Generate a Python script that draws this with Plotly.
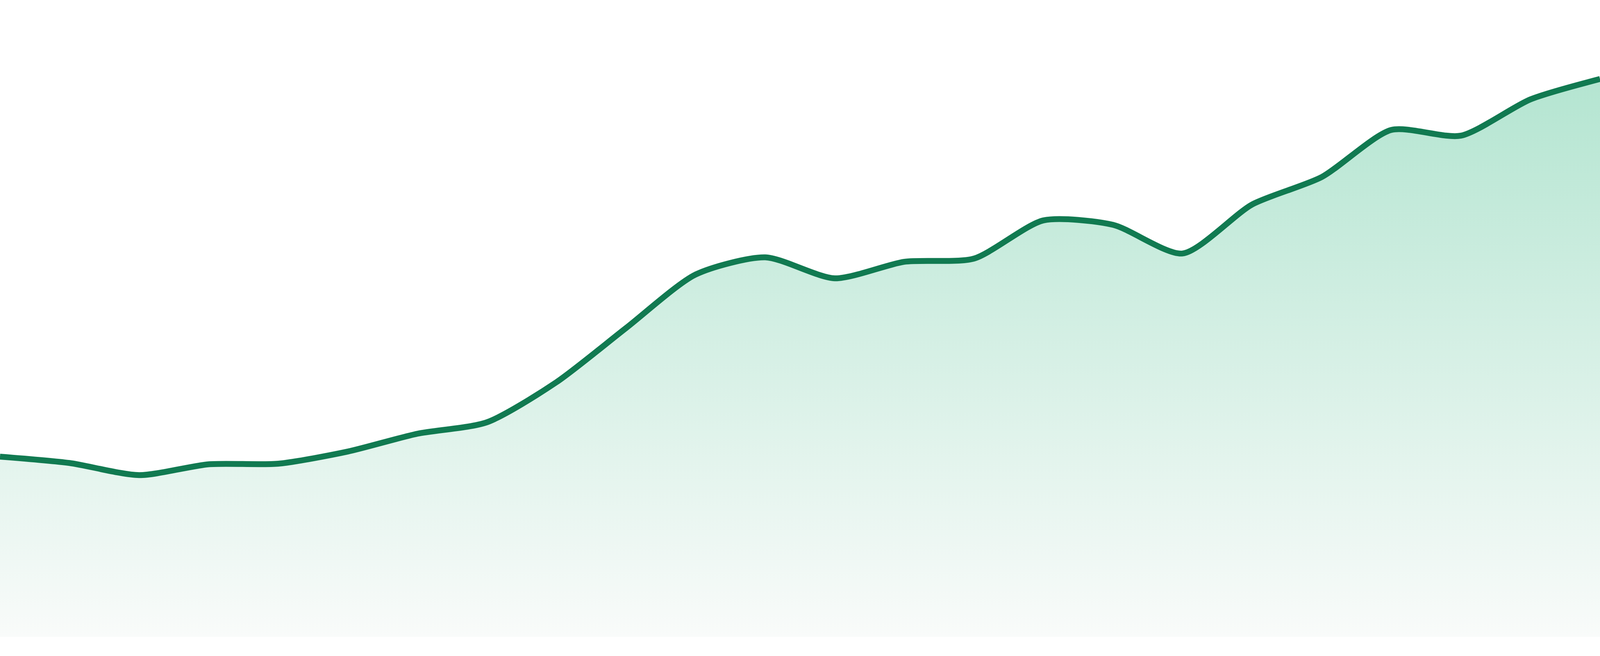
import plotly.graph_objects as go

# values (24 evenly spaced samples, 0-100 scale)
periods = list(range(24))
values = [
    28.3, 27.3, 25.4, 27.1, 27.2, 29.1, 31.9, 33.7, 40.0, 48.5, 56.9, 59.6,
    56.3, 58.9, 59.4, 65.4, 64.7, 60.2, 67.9, 72.2, 79.6, 78.7, 84.4, 87.6,
]

line_color = '#117a51'
fill_bottom = '#f9fbfa'
fill_top = '#b4e5d1'

fig = go.Figure()
fig.add_trace(go.Scatter(
    x=periods,
    y=values,
    mode='lines',
    line=dict(color=line_color, width=15, shape='spline', smoothing=0.7),
    fill='tozeroy',
    fillgradient=dict(
        type='vertical',
        start=0,
        stop=max(values),
        colorscale=[[0, fill_bottom], [1, fill_top]],
    ),
    hoverinfo='skip',
    showlegend=False,
))

# no axes, the area runs edge to edge; the small blank band under zero
# comes from the axis range going a bit below 0
fig.update_layout(
    autosize=True,
    margin=dict(l=0, r=0, t=0, b=0),
    paper_bgcolor='white',
    plot_bgcolor='white',
    xaxis=dict(range=[0, 23], visible=False, fixedrange=True),
    yaxis=dict(range=[-3, 100], visible=False, fixedrange=True),
)

fig.write_html(
    "out.html",
    default_width='100%',
    default_height='100vh',
    config={'responsive': True, 'displayModeBar': False},
    post_script=(
        "document.body.style.margin = '0';"
        "document.body.style.overflow = 'hidden';"
        "Plotly.Plots.resize(document.getElementById('{plot_id}'));"
    ),
)
